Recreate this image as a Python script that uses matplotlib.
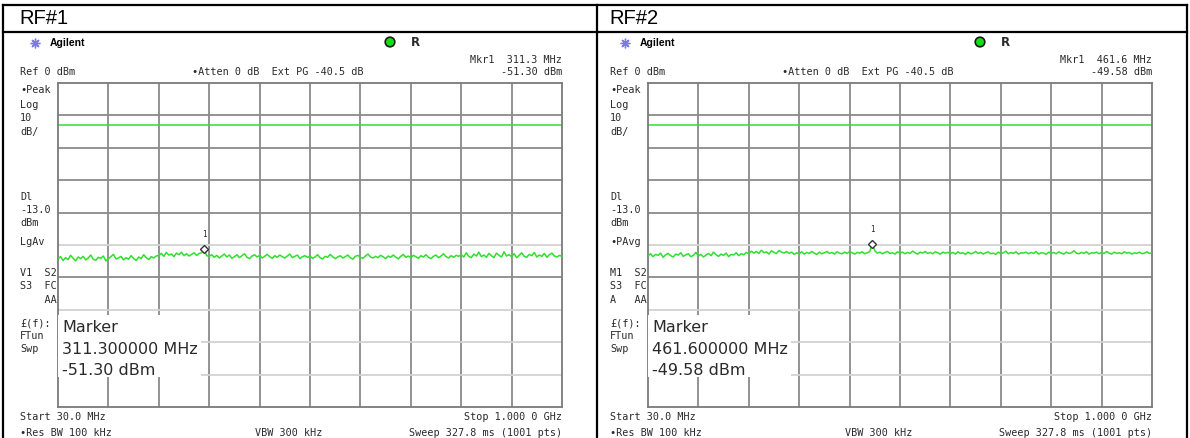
import numpy as np
import matplotlib.pyplot as plt
from matplotlib.patches import Rectangle, Circle

# analyzer settings shared by both sweeps
start_mhz = 30.0
stop_mhz = 1000.0
ref_level = 0.0
db_per_div = 10
display_line = -13.0

panel_titles = ['RF#1', 'RF#2']
marker_freqs = [311.3, 461.6]
marker_levels = [-51.30, -49.58]
detectors = ['LgAv', '•PAvg']
status_rows = [['V1  S2', 'S3  FC', '    AA'],
               ['M1  S2', 'S3  FC', 'A   AA']]

# trace levels (dBm), evenly spaced over the sweep
rf1_trace = [
    -54.3, -53.6, -54.8, -53.9, -54.5, -53.2, -54.1, -54.9, -53.7, -54.2,
    -53.5, -54.6, -54.0, -53.1, -54.4, -54.7, -53.8, -54.1, -53.4, -54.9,
    -54.2, -53.6, -52.9, -54.3, -54.0, -53.5, -54.6, -53.9, -54.4, -53.3,
    -54.1, -54.8, -53.7, -54.2, -53.0, -53.9, -54.5, -53.6, -54.0, -53.4,
    -53.2, -52.6, -53.5, -52.3, -53.1, -52.8, -53.6, -52.5, -53.0, -52.2,
    -53.3, -52.7, -53.4, -52.9, -52.4, -53.2, -52.6, -52.4, -51.3, -53.3,
    -53.5, -53.0, -53.8, -53.2, -54.0, -53.4, -52.8, -53.7, -53.1, -54.1,
    -53.6, -53.0, -53.9, -53.3, -52.7, -53.8, -54.2, -53.4, -53.0, -53.7,
    -53.2, -54.0, -53.5, -52.9, -53.6, -54.1, -53.3, -53.8, -53.1, -53.6,
    -54.0, -53.4, -52.8, -53.9, -53.5, -53.1, -54.2, -53.6, -53.3, -53.8,
    -53.4, -54.1, -53.7, -53.0, -53.9, -54.3, -53.5, -53.8, -52.9, -53.6,
    -54.2, -53.7, -53.3, -54.0, -53.6, -53.1, -53.9, -54.4, -53.5, -53.2,
    -53.8, -54.1, -53.4, -52.8, -53.7, -54.0, -53.5, -53.9, -53.2, -53.6,
    -54.2, -53.4, -53.8, -53.1, -53.7, -54.3, -53.5, -52.9, -53.8, -53.4,
    -53.9, -53.2, -53.6, -54.1, -53.3, -53.7, -53.0, -53.8, -54.2, -53.5,
    -53.1, -53.9, -53.4, -52.7, -53.6, -54.0, -53.3, -53.8, -53.2, -53.5,
    -53.0, -53.7, -52.4, -53.5, -53.9, -52.8, -53.4, -52.2, -53.6, -53.1,
    -53.8, -52.6, -53.3, -53.9, -52.5, -53.2, -53.7, -52.1, -53.4, -53.0,
    -53.6, -52.7, -53.9, -53.2, -52.4, -53.5, -53.8, -52.9, -53.3, -52.3,
    -53.7, -53.1, -53.5, -52.6, -53.8, -53.0, -52.5, -53.4, -53.7, -53.2,
    -53.5,
]
rf2_trace = [
    -53.4, -52.7, -53.6, -52.9, -53.2, -52.5, -53.8, -53.0, -52.6, -53.3,
    -53.7, -52.8, -53.1, -52.4, -53.5, -53.0, -52.7, -53.6, -53.2, -52.3,
    -53.4, -52.9, -53.7, -53.1, -52.6, -53.3, -52.2, -53.0, -53.5, -52.8,
    -53.2, -52.5, -53.6, -52.9, -53.1, -52.4, -53.3, -52.7, -53.0,
    -52.3, -52.7, -51.9, -52.5, -52.0, -52.6, -51.6, -52.4, -52.1, -52.8,
    -51.8, -52.3, -52.6, -51.7, -52.2, -52.5, -52.0,
    -52.6, -52.2, -52.9, -52.4, -52.7, -52.1, -52.8, -52.3, -52.6, -52.0,
    -52.5, -52.9, -52.2, -52.7, -52.4, -52.0, -52.6, -52.3, -52.8, -52.1,
    -52.5, -52.7, -52.2, -52.6, -52.0, -52.4, -52.8, -52.3, -52.5, -52.1,
    -52.7, -52.4, -52.0, -49.6,
    -51.8, -52.5, -52.2, -52.7, -52.3, -52.0, -52.6, -52.4, -52.8, -52.1,
    -52.5, -52.2, -52.7, -52.3, -52.6, -51.9, -52.4, -52.8, -52.2, -52.5,
    -52.0, -52.6, -52.3, -52.7, -52.1, -52.4, -52.8, -52.2, -52.5, -52.3,
    -52.6,
    -52.3, -52.8, -52.1, -52.6, -52.4, -52.9, -52.2, -52.7, -52.5, -52.0,
    -52.6, -52.3, -52.8, -52.4, -52.1, -52.7, -52.5, -52.9, -52.2, -52.6,
    -52.4, -51.9, -52.7, -52.3, -52.6, -52.1, -52.8, -52.4, -52.5, -52.2,
    -52.7, -52.3, -52.6, -52.0, -52.8, -52.4, -52.5, -52.9, -52.2, -52.6,
    -52.3, -52.7, -52.1, -52.5, -52.8, -52.2, -52.6, -52.4, -51.8, -52.5,
    -52.7, -52.3, -52.6, -52.1, -52.8, -52.4, -52.5, -52.2, -52.7, -52.3,
    -52.6, -52.0, -52.5, -52.8, -52.2, -52.6, -52.4, -52.7, -52.1, -52.5,
    -52.3, -52.8, -52.4, -52.6, -52.2, -52.7, -52.5, -52.1, -52.6, -52.4,
]
traces = [rf1_trace, rf2_trace]

W, H = 1190, 438
MONO = 'DejaVu Sans Mono'
INK = '#2a2a2a'
GRID_DARK = '#8a8a8a'
GRID_LIGHT = '#d2d2d2'
TRACE_GREEN = '#2ee02e'

fig = plt.figure(figsize=(W / 100, H / 100), dpi=100)
bg = fig.add_axes([0, 0, 1, 1])
bg.set_xlim(0, W)
bg.set_ylim(H, 0)
bg.axis('off')


def label(x, y, s, size=7.3, **kw):
    kw.setdefault('family', MONO)
    kw.setdefault('color', INK)
    bg.text(x, y, s, va='center', fontsize=size, **kw)


# table frame
for xs, ys in [((3, 1187), (5, 5)), ((3, 1187), (32, 32)),
               ((3, 3), (5, H)), ((597, 597), (5, H)), ((1187, 1187), (5, H))]:
    bg.plot(xs, ys, color='black', lw=1.6, solid_capstyle='projecting')

for i, off in enumerate([0, 590]):
    freq = marker_freqs[i]
    level = marker_levels[i]

    label(off + 19, 19, panel_titles[i], size=14.5, family='Liberation Sans', color='black')

    # instrument header
    bg.plot(off + 35, 43, marker=(8, 2, 0), ms=7, color='#7b7bef', mew=1.0)
    label(off + 50, 43, 'Agilent', size=7.5, family='Liberation Sans',
          weight='bold', color='black')
    bg.add_patch(Circle((off + 390, 42), 4.8, facecolor='#10e010',
                        edgecolor='#1a1a1a', lw=1.2))
    label(off + 411, 42, 'R', size=8.5, family='DejaVu Sans', weight='bold')
    label(off + 562, 60, f'Mkr1  {freq:.1f} MHz', ha='right')
    label(off + 562, 72, f'{level:.2f} dBm', ha='right')
    label(off + 20, 72, f'Ref {ref_level:.0f} dBm')
    label(off + 192, 72, '•Atten 0 dB  Ext PG -40.5 dB')

    # left status column
    side = [('•Peak', 90), ('Log', 105), (f'{db_per_div}', 118), ('dB/', 132),
            ('Dl', 197), (f'{display_line:.1f}', 210), ('dBm', 223),
            (detectors[i], 242)]
    side += list(zip(status_rows[i], [273, 286, 300]))
    side += [('£(f):', 323), ('FTun', 336), ('Swp', 349)]
    for s, y in side:
        label(off + 20, y, s)

    # footer
    label(off + 20, 417, f'Start {start_mhz:.1f} MHz')
    label(off + 562, 417, f'Stop {stop_mhz / 1000:.3f} 0 GHz', ha='right')
    label(off + 20, 433, '•Res BW 100 kHz')
    label(off + 255, 433, 'VBW 300 kHz')
    label(off + 562, 433, 'Sweep 327.8 ms (1001 pts)', ha='right')

    # graticule
    ax = fig.add_axes([(58 + off) / W, (H - 407) / H, 504 / W, 324 / H])
    ax.set_xlim(start_mhz, stop_mhz)
    ax.set_ylim(ref_level - 10 * db_per_div, ref_level)
    ax.set_xticks([])
    ax.set_yticks([])
    for sp in ax.spines.values():
        sp.set_color('#7a7a7a')
        sp.set_linewidth(1.3)
    for f in np.linspace(start_mhz, stop_mhz, 11)[1:-1]:
        ax.axvline(f, color=GRID_DARK, lw=1.3, zorder=1)
    for k in range(1, 10):
        shade = GRID_LIGHT if k in (5, 7, 8, 9) else GRID_DARK
        ax.axhline(ref_level - k * db_per_div, color=shade, lw=1.3, zorder=1)

    ax.axhline(display_line, color='#30e030', lw=1.1, zorder=2)

    trace = traces[i]
    f_axis = np.linspace(start_mhz, stop_mhz, len(trace))
    ax.plot(f_axis, trace, color=TRACE_GREEN, lw=1.1, zorder=3)

    ax.plot(freq, level, marker='D', ms=4, mfc='white', mec='#333333',
            mew=1.0, zorder=4)
    ax.annotate('1', (freq, level), xytext=(0, 7), textcoords='offset points',
                ha='center', va='bottom', fontsize=5.5, family=MONO, color=INK)

    # marker readout box
    ax.add_patch(Rectangle((0.0, 0.093), 0.283, 0.19, transform=ax.transAxes,
                           facecolor='white', edgecolor='none', zorder=5))
    for s, yf in [('Marker', 0.244), (f'{freq:.6f} MHz', 0.176),
                  (f'{level:.2f} dBm', 0.112)]:
        ax.text(0.008, yf, s, transform=ax.transAxes, va='center',
                fontsize=11.5, family='DejaVu Sans', color=INK, zorder=6)

fig.savefig('out.png', dpi=100)
